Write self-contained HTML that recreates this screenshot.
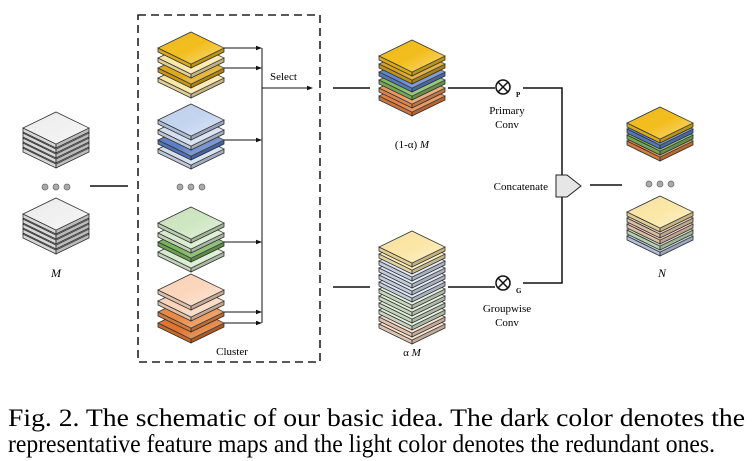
<!DOCTYPE html>
<html><head><meta charset="utf-8"><style>
html,body{margin:0;padding:0;background:#fff;}
svg{display:block;}
text{font-family:"Liberation Serif",serif;}
</style></head><body>
<svg width="752" height="461" viewBox="0 0 752 461" xmlns="http://www.w3.org/2000/svg">
<defs>
<g id="L">
  <polygon points="-33,0 0,16 0,20 -33,4" fill="currentColor" stroke="#333" stroke-width="0.8"/>
  <polygon points="-33,0 0,16 0,20 -33,4" fill="#000" opacity="0.1"/>
  <polygon points="0,16 33,0 33,4 0,20" fill="currentColor" stroke="#333" stroke-width="0.8"/>
  <polygon points="0,16 33,0 33,4 0,20" fill="#000" opacity="0.22"/>
  <polygon points="0,-16 33,0 0,16 -33,0" fill="currentColor" stroke="#333" stroke-width="0.8"/>
  <polygon points="0,-16 33,0 0,16 -33,0" fill="url(#sh)"/>
</g>
<linearGradient id="sh" x1="0" y1="0" x2="1" y2="1">
  <stop offset="0" stop-color="#000" stop-opacity="0.08"/>
  <stop offset="0.5" stop-color="#fff" stop-opacity="0"/>
  <stop offset="1" stop-color="#fff" stop-opacity="0.45"/>
</linearGradient>
<marker id="ar" markerWidth="6" markerHeight="6" refX="5" refY="3" orient="auto" markerUnits="userSpaceOnUse">
  <path d="M0,0.8 L6,3 L0,5.2z" fill="#111"/>
</marker>
</defs>

<g style="color:#f0f0f0">
  <use href="#L" x="56" y="148"/><use href="#L" x="56" y="143"/><use href="#L" x="56" y="138"/><use href="#L" x="56" y="133"/><use href="#L" x="56" y="128"/>
  <use href="#L" x="56" y="234"/><use href="#L" x="56" y="229"/><use href="#L" x="56" y="224"/><use href="#L" x="56" y="219"/><use href="#L" x="56" y="214"/>
</g>
<g fill="#aaa" stroke="#666" stroke-width="0.7">
  <circle cx="45" cy="187" r="3"/><circle cx="56" cy="187" r="3"/><circle cx="67" cy="187" r="3"/>
</g>
<text x="56" y="277" font-size="12" font-style="italic" text-anchor="middle">M</text>
<line x1="90" y1="186" x2="128" y2="186" stroke="#111" stroke-width="1.5"/>

<rect x="138" y="15" width="182" height="347" fill="none" stroke="#222" stroke-width="1.6" stroke-dasharray="8,5"/>

<use href="#L" x="191" y="78" style="color:#fbe7a6"/>
<use href="#L" x="191" y="68" style="color:#dfa817"/>
<use href="#L" x="191" y="58" style="color:#fbe7a6"/>
<use href="#L" x="191" y="48" style="color:#f2bd1c"/>
<use href="#L" x="191" y="149" style="color:#d3def2"/>
<use href="#L" x="191" y="140" style="color:#5b7fc8"/>
<use href="#L" x="191" y="130" style="color:#d3def2"/>
<use href="#L" x="191" y="120" style="color:#c3d4f0"/>
<g fill="#aaa" stroke="#666" stroke-width="0.7">
  <circle cx="180" cy="187" r="3"/><circle cx="191" cy="187" r="3"/><circle cx="202" cy="187" r="3"/>
</g>
<use href="#L" x="191" y="252" style="color:#d8ebcf"/>
<use href="#L" x="191" y="242" style="color:#77b35a"/>
<use href="#L" x="191" y="233" style="color:#d8ebcf"/>
<use href="#L" x="191" y="223" style="color:#cfe6c2"/>
<use href="#L" x="191" y="323" style="color:#e0742c"/>
<use href="#L" x="191" y="312" style="color:#ea8a45"/>
<use href="#L" x="191" y="301" style="color:#fbd5bb"/>
<use href="#L" x="191" y="290" style="color:#fcd6bc"/>

<g stroke="#111" stroke-width="1" marker-end="url(#ar)">
  <line x1="224" y1="48" x2="261" y2="48"/>
  <line x1="224" y1="68" x2="261" y2="68"/>
  <line x1="224" y1="140" x2="261" y2="140"/>
  <line x1="224" y1="242" x2="261" y2="242"/>
  <line x1="224" y1="312" x2="261" y2="312"/>
  <line x1="224" y1="323" x2="261" y2="323"/>
  <line x1="262" y1="88" x2="312" y2="88"/>
</g>
<line x1="262" y1="48" x2="262" y2="323" stroke="#111" stroke-width="1"/>
<text x="270" y="80" font-size="11">Select</text>
<text x="232" y="355" font-size="11" text-anchor="middle">Cluster</text>

<line x1="333" y1="88" x2="370" y2="88" stroke="#111" stroke-width="1.5"/>
<use href="#L" x="412" y="96" style="color:#e8803f"/>
<use href="#L" x="412" y="88" style="color:#f0965a"/>
<use href="#L" x="412" y="80" style="color:#7fba5f"/>
<use href="#L" x="412" y="72" style="color:#5f85cc"/>
<use href="#L" x="412" y="64" style="color:#d9a21a"/>
<use href="#L" x="412" y="56" style="color:#f2bd1c"/>
<text x="412" y="148" font-size="11" text-anchor="middle">(1-α) <tspan font-style="italic">M</tspan></text>

<line x1="333" y1="287" x2="370" y2="287" stroke="#111" stroke-width="1.5"/>
<use href="#L" x="412" y="324" style="color:#f9dcc6"/>
<use href="#L" x="412" y="317" style="color:#f9dcc6"/>
<use href="#L" x="412" y="310" style="color:#dfeed7"/>
<use href="#L" x="412" y="303" style="color:#dfeed7"/>
<use href="#L" x="412" y="296" style="color:#dfeed7"/>
<use href="#L" x="412" y="289" style="color:#dfeed7"/>
<use href="#L" x="412" y="282" style="color:#dce5f5"/>
<use href="#L" x="412" y="275" style="color:#dce5f5"/>
<use href="#L" x="412" y="268" style="color:#dce5f5"/>
<use href="#L" x="412" y="261" style="color:#dce5f5"/>
<use href="#L" x="412" y="254" style="color:#fcebb2"/>
<use href="#L" x="412" y="247" style="color:#fbe6a6"/>
<text x="412" y="356" font-size="11" text-anchor="middle">α <tspan font-style="italic">M</tspan></text>

<g stroke="#111" stroke-width="1.5" fill="none">
  <line x1="448" y1="88" x2="495" y2="88"/>
  <polyline points="523,88 562,88 562,178"/>
  <line x1="448" y1="287" x2="495" y2="287"/>
  <polyline points="523,283 562,283 562,197"/>
  <line x1="590" y1="185" x2="622" y2="185"/>
  <circle cx="503" cy="87" r="7"/>
  <line x1="498" y1="82" x2="508" y2="92"/><line x1="508" y1="82" x2="498" y2="92"/>
  <circle cx="503" cy="283" r="7"/>
  <line x1="498" y1="278" x2="508" y2="288"/><line x1="508" y1="278" x2="498" y2="288"/>
</g>
<text x="516" y="97" font-size="7" font-weight="bold" font-family="Liberation Sans,sans-serif">P</text>
<text x="516" y="293" font-size="7" font-weight="bold" font-family="Liberation Sans,sans-serif">G</text>
<text x="507" y="114" font-size="11" text-anchor="middle">Primary</text>
<text x="507" y="128" font-size="11" text-anchor="middle">Conv</text>
<text x="507" y="312" font-size="11" text-anchor="middle">Groupwise</text>
<text x="507" y="326" font-size="11" text-anchor="middle">Conv</text>
<polygon points="556,175 567,175 581,186 567,197 556,197" fill="#e6e6e6" stroke="#222" stroke-width="1"/>
<text x="548" y="190" font-size="11" text-anchor="end">Concatenate</text>

<g fill="#aaa" stroke="#666" stroke-width="0.7">
  <circle cx="649" cy="184" r="3"/><circle cx="660" cy="184" r="3"/><circle cx="671" cy="184" r="3"/>
</g>
<use href="#L" x="660" y="141" style="color:#ea8a45"/>
<use href="#L" x="660" y="135" style="color:#7fba5f"/>
<use href="#L" x="660" y="129" style="color:#5f85cc"/>
<use href="#L" x="660" y="123" style="color:#f2bd1c"/>
<use href="#L" x="660" y="236" style="color:#c6d5ee"/>
<use href="#L" x="660" y="230" style="color:#cfe6c2"/>
<use href="#L" x="660" y="224" style="color:#f7d2b8"/>
<use href="#L" x="660" y="218" style="color:#f4d5b8"/>
<use href="#L" x="660" y="212" style="color:#fbe7a6"/>
<text x="662" y="277" font-size="12" font-style="italic" text-anchor="middle">N</text>

<text x="8" y="426" font-size="25" textLength="737" lengthAdjust="spacingAndGlyphs">Fig. 2.  The schematic of our basic idea. The dark color denotes the</text>
<text x="8" y="452" font-size="25" textLength="707" lengthAdjust="spacingAndGlyphs">representative feature maps and the light color denotes the redundant ones.</text>
</svg>
</body></html>
